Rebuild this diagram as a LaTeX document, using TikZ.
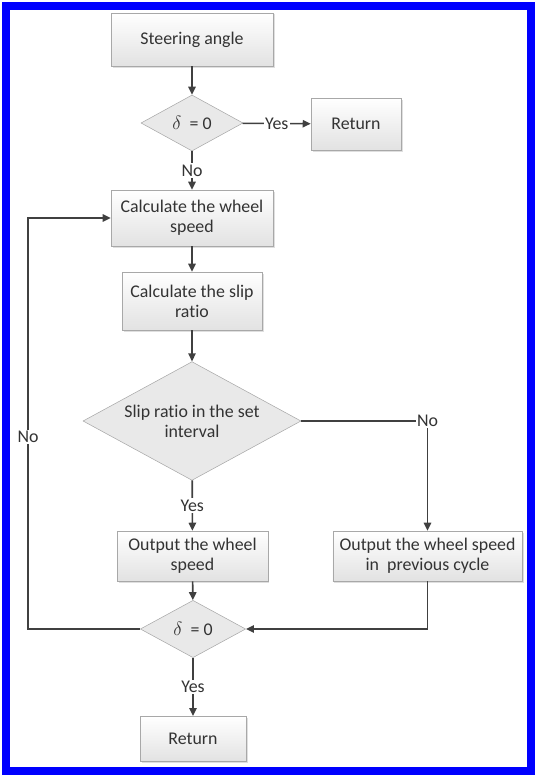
\documentclass[tikz,border=0pt]{standalone}
\usepackage{fontspec}
\setmainfont[Ligatures=NoCommon]{Carlito}
\usepackage{tikz}
\usetikzlibrary{arrows.meta, positioning, shapes.geometric, shadows}

\definecolor{linegray}{HTML}{404040}
\definecolor{edgegray}{HTML}{A8A8A8}
\definecolor{fillgray}{HTML}{E2E2E2}

\begin{document}
\begin{tikzpicture}[x=0.75pt, y=-0.75pt,
    >={Triangle[length=6pt, width=5.5pt]},
    every node/.style={font=\fontsize{13.4}{15}\selectfont, text=black!80},
    box/.style={rectangle, draw=edgegray, top color=white, bottom color=fillgray,
      align=center, inner sep=2pt,
      drop shadow={shadow xshift=1.2pt, shadow yshift=-1.2pt, opacity=0.25}},
    decision/.style={diamond, draw=edgegray, fill=fillgray!75, align=center,
      inner sep=0pt, aspect=2},
    flow/.style={->, draw=linegray, line width=1.2pt},
    lbl/.style={fill=white, inner sep=1pt}]
  \useasboundingbox (0,0) rectangle (537,777);

  % Frame
  \draw[blue, line width=5.4pt] (6,6) rectangle (531,771);

  % Steps of the loop
  \node[box, minimum width=121.5pt, minimum height=40pt] (steer) at (192,39.5) {Steering angle};
  \node[decision, minimum width=76.5pt, minimum height=42pt] (zero1) at (192,123) {$\delta$\ \ = 0};
  \node[box, minimum width=67.5pt, minimum height=39pt] (ret1) at (356,124) {Return};
  \node[box, minimum width=121.5pt, minimum height=42pt] (wheel) at (192,218)
    {Calculate the wheel\\speed};
  \node[box, minimum width=105pt, minimum height=43.5pt] (slip) at (192,301)
    {Calculate the slip\\ratio};
  \node[decision, minimum width=163.5pt, minimum height=89pt] (inset) at (192,421)
    {Slip ratio in the set\\interval};
  \node[box, minimum width=113pt, minimum height=37.5pt] (outnow) at (192.5,556)
    {Output the wheel\\speed};
  \node[box, minimum width=142pt, minimum height=37.5pt] (outprev) at (427.5,556)
    {Output the wheel speed\\in~ previous cycle};
  \node[decision, minimum width=79pt, minimum height=43pt] (zero2) at (193,629) {$\delta$\ \ = 0};
  \node[box, minimum width=79.5pt, minimum height=34pt] (ret2) at (193,739) {Return};

  \coordinate (loopfoot) at (28,629);

  % Connectors
  \draw[flow] (steer) -- (zero1);
  \draw[flow] (zero1) -- node[lbl] {Yes} (ret1);
  \draw[flow] (zero1) -- node[lbl] {No} (wheel);
  \draw[flow] (wheel) -- (slip);
  \draw[flow] (slip) -- (inset);
  \draw[flow] (inset) -- node[lbl] {Yes} (outnow);
  \draw[flow] (inset) -| node[lbl, pos=0.5] {No} (outprev);
  \draw[flow] (outnow) -- (zero2);
  \draw[flow] (outprev) |- (zero2);
  \draw[flow] (zero2.west) -- (loopfoot) |- node[lbl, pos=0.234] {No} (wheel.west);
  \draw[flow] (zero2) -- node[lbl] {Yes} (ret2);
\end{tikzpicture}
\end{document}
